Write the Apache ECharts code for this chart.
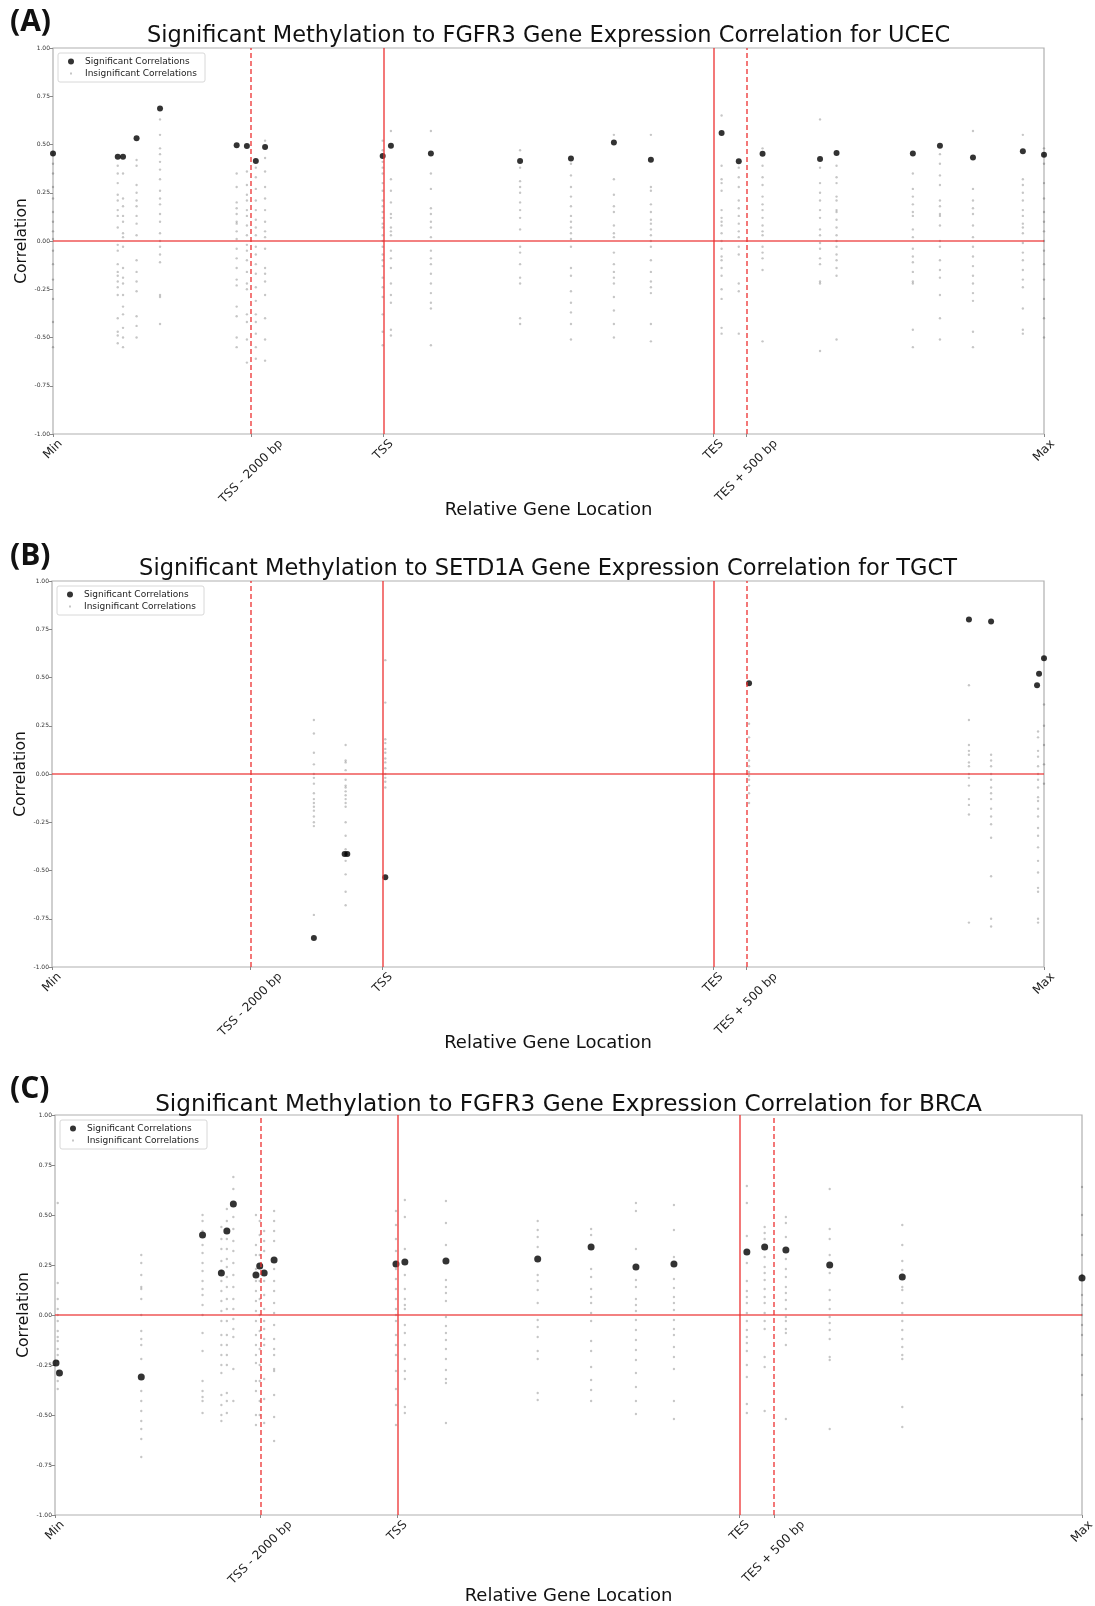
<!DOCTYPE html>
<html>
<head>
<meta charset="utf-8">
<title>Methylation to gene expression correlation</title>
<script src="https://cdn.jsdelivr.net/npm/echarts@6.0.0/dist/echarts.min.js"></script>
<style>
  html, body { margin: 0; padding: 0; background: #fff; }
  #chart { width: 1095px; height: 1606px; }
</style>
</head>
<body>
<div id="chart"></div>
<script>
// relative gene location: Min = 0 ... Max = 30
const geneTicks = [0, 6, 10, 20, 21, 30];
const geneTickNames = ["Min", "TSS - 2000 bp", "TSS", "TES", "TES + 500 bp", "Max"];

// (A) FGFR3 / UCEC
const ucecSigX = [0, 1.96, 2.12, 2.53, 3.24, 5.56, 5.87, 6.14, 6.42, 9.98, 10.23, 11.44, 14.14, 15.68, 16.98, 18.1, 20.24, 20.76, 21.48, 23.22, 23.72, 26.03, 26.85, 27.85, 29.36, 30];
const ucecSigY = [0.454, 0.437, 0.437, 0.532, 0.687, 0.496, 0.492, 0.415, 0.487, 0.44, 0.494, 0.454, 0.415, 0.428, 0.511, 0.421, 0.56, 0.413, 0.452, 0.425, 0.456, 0.454, 0.494, 0.432, 0.465, 0.447];
const ucecInsigX = ucecSigX;
const ucecInsigY = [
  [0.40, 0.35, 0.28, 0.22, 0.15, 0.10, 0.05, 0.01, -0.05, -0.12, -0.20, -0.30, -0.42, -0.55],
  [0.39, 0.35, 0.30, 0.24, 0.21, 0.16, 0.13, 0.07, -0.02, -0.05, -0.12, -0.16, -0.18, -0.21, -0.24, -0.28, -0.40, -0.47, -0.49, -0.53],
  [0.35, 0.22, 0.18, 0.13, 0.10, 0.04, 0.02, -0.03, -0.14, -0.19, -0.22, -0.28, -0.34, -0.38, -0.45, -0.50, -0.55],
  [0.42, 0.39, 0.29, 0.25, 0.21, 0.18, 0.13, 0.09, 0.03, -0.10, -0.16, -0.21, -0.26, -0.39, -0.44, -0.50],
  [0.63, 0.55, 0.48, 0.45, 0.41, 0.37, 0.32, 0.26, 0.22, 0.19, 0.14, 0.10, 0.04, 0.0, -0.03, -0.07, -0.11, -0.28, -0.29, -0.43],
  [0.35, 0.28, 0.20, 0.17, 0.14, 0.10, 0.09, 0.05, 0.01, -0.04, -0.09, -0.14, -0.20, -0.23, -0.34, -0.39, -0.50, -0.55],
  [0.36, 0.29, 0.24, 0.21, 0.16, 0.13, 0.08, 0.03, -0.02, -0.05, -0.10, -0.16, -0.22, -0.25, -0.38, -0.42, -0.51, -0.63],
  [0.38, 0.33, 0.27, 0.21, 0.16, 0.11, 0.07, 0.03, -0.03, -0.07, -0.12, -0.17, -0.24, -0.31, -0.38, -0.42, -0.48, -0.55, -0.61],
  [0.52, 0.43, 0.36, 0.28, 0.22, 0.16, 0.10, 0.05, 0.02, -0.04, -0.14, -0.17, -0.21, -0.28, -0.40, -0.51, -0.62],
  [0.52, 0.47, 0.41, 0.38, 0.35, 0.30, 0.26, 0.21, 0.18, 0.15, 0.12, 0.09, 0.07, 0.03, 0, -0.03, -0.07, -0.10, -0.13, -0.19, -0.24, -0.29, -0.38, -0.47, -0.54],
  [0.57, 0.32, 0.26, 0.20, 0.14, 0.12, 0.07, 0.05, 0.03, -0.05, -0.09, -0.14, -0.22, -0.28, -0.32, -0.46, -0.49],
  [0.57, 0.35, 0.27, 0.17, 0.14, 0.10, 0.07, 0.02, -0.05, -0.09, -0.12, -0.17, -0.22, -0.27, -0.32, -0.35, -0.54],
  [0.47, 0.38, 0.31, 0.28, 0.25, 0.20, 0.16, 0.12, 0.06, -0.03, -0.06, -0.12, -0.19, -0.22, -0.40, -0.43],
  [0.40, 0.34, 0.28, 0.23, 0.18, 0.13, 0.10, 0.07, 0.04, 0.01, -0.03, -0.14, -0.18, -0.26, -0.32, -0.37, -0.43, -0.51],
  [0.55, 0.32, 0.24, 0.18, 0.15, 0.08, 0.04, 0.02, -0.06, -0.12, -0.16, -0.19, -0.22, -0.29, -0.36, -0.43, -0.50],
  [0.55, 0.28, 0.26, 0.19, 0.15, 0.11, 0.09, 0.06, 0.03, 0, -0.03, -0.10, -0.16, -0.21, -0.24, -0.27, -0.43, -0.52],
  [0.65, 0.39, 0.32, 0.30, 0.26, 0.16, 0.12, 0.10, 0.08, 0.04, 0, -0.04, -0.08, -0.10, -0.14, -0.18, -0.25, -0.30, -0.45, -0.48],
  [0.38, 0.33, 0.28, 0.21, 0.17, 0.13, 0.09, 0.05, 0.02, -0.03, -0.07, -0.22, -0.26, -0.48],
  [0.48, 0.39, 0.33, 0.29, 0.23, 0.19, 0.16, 0.12, 0.08, 0.05, 0.03, -0.03, -0.06, -0.09, -0.15, -0.52],
  [0.63, 0.38, 0.30, 0.25, 0.21, 0.16, 0.12, 0.06, 0.03, -0.01, -0.04, -0.09, -0.12, -0.21, -0.22, -0.57],
  [0.39, 0.33, 0.30, 0.23, 0.21, 0.16, 0.15, 0.11, 0.07, 0.03, 0, -0.03, -0.07, -0.10, -0.14, -0.18, -0.51],
  [0.35, 0.27, 0.23, 0.19, 0.15, 0.13, 0.06, 0.02, -0.04, -0.08, -0.11, -0.16, -0.21, -0.22, -0.46, -0.55],
  [0.45, 0.40, 0.34, 0.29, 0.21, 0.18, 0.14, 0.13, 0.08, 0, -0.03, -0.10, -0.15, -0.19, -0.28, -0.40, -0.51],
  [0.57, 0.27, 0.21, 0.17, 0.14, 0.08, 0.02, -0.03, -0.08, -0.13, -0.18, -0.22, -0.27, -0.31, -0.47, -0.55],
  [0.55, 0.32, 0.29, 0.25, 0.21, 0.16, 0.13, 0.09, 0.07, 0.04, -0.01, -0.06, -0.10, -0.15, -0.20, -0.24, -0.35, -0.46, -0.48],
  [0.48, 0.40, 0.30, 0.22, 0.15, 0.10, 0.05, 0, -0.05, -0.12, -0.20, -0.30, -0.40, -0.50]
];

// (B) SETD1A / TGCT
const tgctSigX = [7.92, 8.85, 8.93, 10.08, 21.08, 27.73, 28.4, 29.79, 29.85, 30];
const tgctSigY = [-0.85, -0.415, -0.415, -0.535, 0.47, 0.80, 0.79, 0.46, 0.52, 0.60];
const tgctInsigX = [7.92, 8.88, 10.08, 21.08, 27.73, 28.4, 29.82, 30];
const tgctInsigY = [
  [0.28, 0.21, 0.11, 0.05, 0, -0.02, -0.05, -0.10, -0.13, -0.15, -0.17, -0.19, -0.22, -0.25, -0.27, -0.73],
  [0.15, 0.07, 0.06, 0.02, -0.03, -0.06, -0.07, -0.09, -0.11, -0.13, -0.15, -0.17, -0.25, -0.32, -0.39, -0.45, -0.52, -0.61, -0.68],
  [0.59, 0.37, 0.18, 0.16, 0.13, 0.11, 0.08, 0.06, 0.03, 0, -0.02, -0.04, -0.07],
  [0.26, 0.19, 0.12, 0.07, 0.04, 0.01, -0.01, -0.03, -0.06, -0.10, -0.15],
  [0.46, 0.28, 0.15, 0.12, 0.10, 0.06, 0.04, 0, -0.02, -0.06, -0.13, -0.16, -0.21, -0.77],
  [0.10, 0.07, 0.04, 0, -0.03, -0.07, -0.10, -0.13, -0.18, -0.22, -0.26, -0.33, -0.53, -0.75, -0.79],
  [0.22, 0.19, 0.12, 0.09, 0.04, 0, -0.03, -0.07, -0.12, -0.14, -0.18, -0.22, -0.28, -0.32, -0.38, -0.45, -0.51, -0.59, -0.61, -0.75, -0.77],
  [0.36, 0.25, 0.15, 0.05, -0.05]
];

// (C) FGFR3 / BRCA
const brcaSigX = [0.03, 0.13, 2.52, 4.31, 4.86, 5.02, 5.21, 5.87, 5.98, 6.11, 6.4, 9.96, 10.22, 11.42, 14.1, 15.66, 16.97, 18.08, 20.21, 20.73, 21.35, 22.63, 24.75, 30];
const brcaSigY = [-0.24, -0.29, -0.31, 0.40, 0.21, 0.42, 0.555, 0.20, 0.245, 0.21, 0.275, 0.255, 0.265, 0.27, 0.28, 0.34, 0.24, 0.255, 0.315, 0.34, 0.325, 0.25, 0.19, 0.185];
const brcaInsigX = [0.08, 2.52, 4.31, 4.86, 5.02, 5.21, 5.87, 5.98, 6.11, 6.4, 9.96, 10.22, 11.42, 14.1, 15.66, 16.97, 18.08, 20.21, 20.73, 21.35, 22.63, 24.75, 30];
const brcaInsigY = [
  [0.56, 0.16, 0.08, 0.03, 0, -0.03, -0.08, -0.11, -0.13, -0.17, -0.20, -0.23, -0.28, -0.33, -0.37],
  [0.30, 0.26, 0.20, 0.14, 0.13, 0.08, 0, -0.08, -0.12, -0.15, -0.22, -0.38, -0.43, -0.48, -0.53, -0.57, -0.62, -0.71],
  [0.50, 0.47, 0.42, 0.35, 0.31, 0.26, 0.22, 0.17, 0.13, 0.10, 0.05, 0, -0.09, -0.18, -0.33, -0.38, -0.41, -0.43, -0.49],
  [0.44, 0.38, 0.33, 0.27, 0.22, 0.17, 0.12, 0.07, 0.02, -0.03, -0.10, -0.15, -0.20, -0.25, -0.29, -0.40, -0.45, -0.50, -0.53],
  [0.53, 0.47, 0.38, 0.33, 0.28, 0.24, 0.19, 0.14, 0.08, 0.03, -0.03, -0.10, -0.15, -0.20, -0.25, -0.39, -0.43, -0.49],
  [0.69, 0.63, 0.49, 0.43, 0.37, 0.32, 0.26, 0.20, 0.14, 0.08, 0.03, -0.02, -0.07, -0.11, -0.27, -0.43],
  [0.50, 0.35, 0.30, 0.23, 0.17, 0.12, 0.07, 0.02, -0.03, -0.10, -0.15, -0.20, -0.24, -0.33, -0.38, -0.50, -0.55],
  [0.47, 0.40, 0.30, 0.17, 0.08, 0, -0.08, -0.17, -0.25, -0.33, -0.43, -0.50],
  [0.42, 0.37, 0.32, 0.17, 0.10, 0.03, -0.03, -0.07, -0.12, -0.15, -0.32, -0.42, -0.54],
  [0.52, 0.47, 0.42, 0.37, 0.23, 0.17, 0.12, 0.06, 0.01, -0.05, -0.12, -0.17, -0.20, -0.27, -0.28, -0.40, -0.51, -0.63],
  [0.52, 0.45, 0.38, 0.32, 0.23, 0.18, 0.13, 0.08, 0.03, 0, -0.03, -0.10, -0.15, -0.20, -0.28, -0.37, -0.45, -0.55],
  [0.575, 0.49, 0.33, 0.20, 0.13, 0.08, 0.05, 0.03, -0.05, -0.09, -0.15, -0.22, -0.28, -0.32, -0.46, -0.49],
  [0.57, 0.46, 0.35, 0.175, 0.14, 0.11, 0.07, -0.01, -0.055, -0.09, -0.125, -0.17, -0.22, -0.275, -0.32, -0.34, -0.54],
  [0.47, 0.425, 0.39, 0.34, 0.20, 0.17, 0.125, 0.06, -0.025, -0.06, -0.11, -0.18, -0.22, -0.39, -0.425],
  [0.43, 0.40, 0.23, 0.19, 0.13, 0.09, 0.06, 0.01, -0.03, -0.13, -0.18, -0.26, -0.325, -0.375, -0.43],
  [0.56, 0.52, 0.33, 0.175, 0.14, 0.08, 0.05, 0.02, -0.025, -0.075, -0.125, -0.175, -0.225, -0.29, -0.36, -0.43, -0.495],
  [0.55, 0.425, 0.29, 0.18, 0.135, 0.09, 0.06, 0.025, -0.025, -0.07, -0.10, -0.16, -0.21, -0.27, -0.43, -0.52],
  [0.645, 0.56, 0.395, 0.26, 0.17, 0.12, 0.09, 0.06, 0.01, -0.03, -0.075, -0.11, -0.14, -0.18, -0.25, -0.31, -0.445, -0.49],
  [0.44, 0.41, 0.38, 0.29, 0.24, 0.21, 0.175, 0.13, 0.09, 0.06, 0.01, -0.03, -0.07, -0.21, -0.26, -0.48],
  [0.49, 0.46, 0.39, 0.28, 0.23, 0.19, 0.14, 0.11, 0.075, 0.03, -0.01, -0.03, -0.07, -0.09, -0.15, -0.52],
  [0.63, 0.43, 0.38, 0.30, 0.21, 0.125, 0.075, 0.03, -0.01, -0.04, -0.075, -0.12, -0.21, -0.225, -0.57],
  [0.45, 0.35, 0.27, 0.225, 0.14, 0.125, 0.06, 0.01, -0.03, -0.075, -0.12, -0.16, -0.20, -0.22, -0.46, -0.56],
  [0.64, 0.50, 0.40, 0.30, 0.20, 0.10, 0.05, 0, -0.05, -0.10, -0.20, -0.30, -0.40, -0.52]
];

const panels = [
  {
    tag: "(A)", tagTop: 7,
    title: "Significant Methylation to FGFR3 Gene Expression Correlation for UCEC",
    titleTop: 25, titleSize: 22.5, xNameGap: 67,
    grid: { left: 53, top: 48, width: 991, height: 386 },
    sigX: ucecSigX, sigY: ucecSigY, insigX: ucecInsigX, insigY: ucecInsigY,
    sigSize: 6
  },
  {
    tag: "(B)", tagTop: 541,
    title: "Significant Methylation to SETD1A Gene Expression Correlation for TGCT",
    titleTop: 558, titleSize: 22.5, xNameGap: 67,
    grid: { left: 52, top: 581, width: 992, height: 386 },
    sigX: tgctSigX, sigY: tgctSigY, insigX: tgctInsigX, insigY: tgctInsigY,
    sigSize: 6
  },
  {
    tag: "(C)", tagTop: 1074,
    title: "Significant Methylation to FGFR3 Gene Expression Correlation for BRCA",
    titleTop: 1093, titleSize: 23.2, xNameGap: 72,
    grid: { left: 55, top: 1115, width: 1027, height: 400 },
    sigX: brcaSigX, sigY: brcaSigY, insigX: brcaInsigX, insigY: brcaInsigY,
    sigSize: 7
  }
];

const FONT = "DejaVu Sans";
const TICK_FONT_SIZE = 12;

// matplotlib centres rotated tick labels on the tick; pad each label so ECharts does the same
const measureCtx = document.createElement("canvas").getContext("2d");
measureCtx.font = TICK_FONT_SIZE + "px '" + FONT + "'";
const tickRich = {};
geneTickNames.forEach((name, k) => {
  const w = measureCtx.measureText(name).width;
  tickRich["l" + k] = { padding: [w / 2, w / 2, 0, 0] };
});

const redLine = "rgba(236, 45, 45, 0.8)";
const chart = echarts.init(document.getElementById("chart"));

const option = {
  backgroundColor: "#fff",
  animation: false,
  title: [],
  grid: [],
  xAxis: [],
  yAxis: [],
  legend: [],
  series: []
};

panels.forEach((p, i) => {
  const g = p.grid;

  option.title.push({
    text: p.tag, left: 10, top: p.tagTop, padding: 0,
    textStyle: { fontFamily: "Open Sans", fontWeight: "bold", fontSize: 30, color: "#111" }
  });
  option.title.push({
    text: p.title, left: g.left + g.width / 2, top: p.titleTop, textAlign: "center", padding: 0,
    textStyle: { fontFamily: FONT, fontWeight: "normal", fontSize: p.titleSize, color: "#111" }
  });

  option.grid.push({
    left: g.left, top: g.top, width: g.width, height: g.height,
    show: true, borderColor: "#b0b0b0", borderWidth: 1.2, backgroundColor: "#fff",
    outerBoundsMode: "none"
  });

  option.xAxis.push({
    gridIndex: i, type: "value", min: 0, max: 30,
    name: "Relative Gene Location", nameLocation: "middle", nameGap: p.xNameGap,
    nameMoveOverlap: false,
    nameTextStyle: { fontFamily: FONT, fontSize: 18, color: "#111" },
    axisLine: { show: false, onZero: false },
    splitLine: { show: false },
    axisTick: { show: true, customValues: geneTicks, length: 3, lineStyle: { color: "#888" } },
    axisLabel: {
      customValues: geneTicks, rotate: 45, align: "center", verticalAlign: "middle", margin: 8,
      fontFamily: FONT, fontSize: TICK_FONT_SIZE, color: "#222",
      formatter: (v) => {
        const k = geneTicks.indexOf(v);
        return "{l" + k + "|" + geneTickNames[k] + "}";
      },
      rich: tickRich
    }
  });

  option.yAxis.push({
    gridIndex: i, type: "value", min: -1, max: 1, interval: 0.25,
    name: "Correlation", nameLocation: "middle", nameGap: 23,
    nameMoveOverlap: false,
    nameTextStyle: { fontFamily: FONT, fontSize: 15.5, color: "#111" },
    axisLine: { show: false, onZero: false },
    splitLine: { show: false },
    axisTick: { show: true, length: 3, lineStyle: { color: "#888" } },
    axisLabel: {
      fontFamily: FONT, fontSize: 6, color: "#333", margin: 3,
      formatter: (v) => v.toFixed(2)
    }
  });

  option.legend.push({
    left: g.left + 5, top: g.top + 5, orient: "vertical",
    data: [
      { name: "Significant Correlations", icon: "circle" },
      { name: "Insignificant Correlations", icon: "path://M0,0M18,6M8,2h2v2h-2z" }
    ],
    itemWidth: 18, itemHeight: 6, itemGap: 3,
    padding: [4, 8, 4, 4],
    borderColor: "#d8d8d8", borderWidth: 1, borderRadius: 2, backgroundColor: "#fff",
    selectedMode: false,
    textStyle: { fontFamily: FONT, fontSize: 9, color: "#222" }
  });

  // flatten the columns of insignificant probes
  const insigData = [];
  p.insigX.forEach((x, c) => {
    p.insigY[c].forEach((y) => insigData.push([x, y]));
  });
  const sigData = p.sigX.map((x, k) => [x, p.sigY[k]]);

  option.series.push({
    type: "scatter", name: "Insignificant Correlations",
    xAxisIndex: i, yAxisIndex: i,
    data: insigData, symbol: "circle", symbolSize: 2.4,
    itemStyle: { color: "rgba(0, 0, 0, 0.28)" },
    silent: true, z: 2,
    markLine: {
      silent: true, symbol: "none", animation: false,
      label: { show: false },
      emphasis: { disabled: true },
      lineStyle: { color: redLine, width: 1.6, type: "solid" },
      data: [
        { yAxis: 0 },
        { xAxis: geneTicks[1], lineStyle: { type: [5, 3] } },
        { xAxis: geneTicks[2] },
        { xAxis: geneTicks[3] },
        { xAxis: geneTicks[4], lineStyle: { type: [5, 3] } }
      ]
    }
  });

  option.series.push({
    type: "scatter", name: "Significant Correlations",
    xAxisIndex: i, yAxisIndex: i,
    data: sigData, symbol: "circle", symbolSize: p.sigSize,
    itemStyle: { color: "#000" },
    silent: true, z: 3
  });
});

chart.setOption(option);
</script>
</body>
</html>
